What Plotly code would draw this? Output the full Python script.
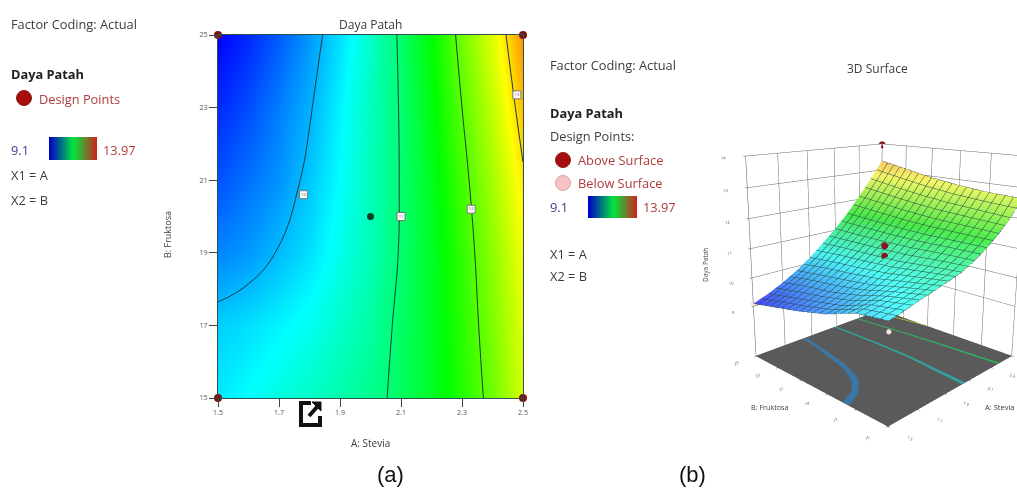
import plotly.graph_objects as go

W, H = 1017, 488
FONT = "Open Sans"
TXT = "#3c3c3c"

stevia = [1.5, 1.6, 1.7, 1.8, 1.9, 2.0, 2.1, 2.2, 2.3, 2.4, 2.5]
fruktosa = [15, 17, 19, 21, 23, 25]
daya_patah = [
    [10.25, 10.37, 10.50, 10.62, 10.75, 10.88, 11.10, 11.38, 11.72, 12.12, 12.65],
    [10.12, 10.20, 10.30, 10.42, 10.60, 10.80, 11.08, 11.38, 11.76, 12.20, 12.70],
    [9.75, 9.85, 10.02, 10.20, 10.45, 10.70, 11.03, 11.38, 11.80, 12.28, 12.80],
    [9.50, 9.66, 9.82, 10.08, 10.36, 10.68, 11.02, 11.42, 11.88, 12.40, 12.95],
    [9.30, 9.48, 9.72, 9.97, 10.30, 10.66, 11.03, 11.48, 12.00, 12.55, 13.15],
    [9.10, 9.30, 9.55, 9.85, 10.20, 10.62, 11.06, 11.55, 12.12, 12.72, 13.35],
]
contour_levels = [10, 11, 12, 13]
label_x = [1.78, 2.10, 2.33, 2.48]
label_y = [20.6, 20.0, 20.2, 23.35]
corner_x = [1.5, 1.5, 2.5, 2.5]
corner_y = [15, 25, 15, 25]
center_x = [2.0]
center_y = [20.0]
above_a = [2.5, 2.0, 2.0]
above_b = [25, 20, 20]
above_z = [13.97, 11.1, 10.75]
below_a = [1.5, 1.5]
below_b = [15, 25]
below_z = [9.95, 9.1]
xticks = [1.5, 1.7, 1.9, 2.1, 2.3, 2.5]
yticks = [15, 17, 19, 21, 23, 25]
zticks = [9, 10, 11, 12, 13, 14]
cmin, cmax = 9.1, 13.97
z_floor = 7.2

scale = [[0, "#0000ff"], [0.257, "#00ffff"], [0.503, "#00ff00"],
         [0.77, "#ffff00"], [1, "#ff0000"]]
surface_scale = [[0, "#3c3cf0"], [0.257, "#46f0f0"], [0.503, "#46e646"],
                 [0.77, "#f5f564"], [1, "#ff8c64"]]
bar_scale = [[0, "#0000c8"], [0.5, "#00e63c"], [1, "#d21e1e"]]

FLOOR_GREY = "#5a5a5a"
floor_colors = ["#3a78a8", "#2fa8a0", "#30b060", "#a8c030"]
band = 0.035
floor_scale = [[0, FLOOR_GREY]]
for lev, col in zip(contour_levels, floor_colors):
    a = (lev - band - cmin) / (cmax - cmin)
    b = (lev + band - cmin) / (cmax - cmin)
    floor_scale += [[a - 1e-4, FLOOR_GREY], [a, col], [b, col], [b + 1e-4, FLOOR_GREY]]
floor_scale += [[1, FLOOR_GREY]]


def px(x):
    return x / W


def py(y):
    return 1 - y / H


fig = go.Figure()
fig.add_trace(go.Heatmap(x=stevia, y=fruktosa, z=daya_patah, zmin=cmin, zmax=cmax,
                         colorscale=scale, zsmooth="best", showscale=False))
fig.add_trace(go.Contour(x=stevia, y=fruktosa, z=daya_patah, showscale=False,
                         contours=dict(coloring="none", start=contour_levels[0],
                                       end=contour_levels[-1], size=1),
                         line=dict(color="#1c3c3c", width=1, smoothing=1.3)))
fig.add_trace(go.Scatter(x=label_x, y=label_y, mode="markers+text",
                         text=[str(v) for v in contour_levels], textposition="middle center",
                         textfont=dict(size=4, color="#444"),
                         marker=dict(symbol="square", size=8, color="white",
                                     line=dict(color="#777", width=1))))
fig.add_trace(go.Scatter(x=corner_x, y=corner_y, mode="markers", cliponaxis=False,
                         marker=dict(size=8, color="#7d1414")))
fig.add_trace(go.Scatter(x=center_x, y=center_y, mode="markers",
                         marker=dict(size=7, color="#143c28")))

for ax, ay in (("x2", "y2"), ("x3", "y3")):
    fig.add_trace(go.Heatmap(x=[0, 1, 2], y=[0, 1], z=[[0, 1, 2], [0, 1, 2]], xaxis=ax, yaxis=ay,
                             colorscale=bar_scale, zsmooth="best", showscale=False))

fig.add_trace(go.Surface(
    x=stevia, y=fruktosa, z=[[z_floor + 0.01] * len(stevia) for _ in fruktosa],
    surfacecolor=daya_patah, cmin=cmin, cmax=cmax, colorscale=floor_scale,
    showscale=False, lighting=dict(ambient=1, diffuse=0, specular=0, roughness=1, fresnel=0),
))
fig.add_trace(go.Surface(
    x=stevia, y=fruktosa, z=daya_patah, cmin=cmin, cmax=cmax, colorscale=surface_scale,
    showscale=False,
    lighting=dict(ambient=0.95, diffuse=0.15, specular=0.05),
    contours=dict(
        x=dict(show=True, start=1.5, end=2.5, size=0.05, color="#2a4a44", width=1),
        y=dict(show=True, start=15, end=25, size=0.5, color="#2a4a44", width=1),
    ),
))
fig.add_trace(go.Scatter3d(x=above_a, y=above_b, z=above_z, mode="markers",
                           marker=dict(size=4, color="#8c1420")))
fig.add_trace(go.Scatter3d(x=below_a, y=below_b, z=below_z, mode="markers",
                           marker=dict(size=3, color="#fbe0e0")))


def ann(x, y, text, size=12.8, color=TXT, bold=False, font=FONT, angle=0, anchor="left"):
    fig.add_annotation(xref="paper", yref="paper", x=px(x), y=py(y), text=f"<b>{text}</b>" if bold else text,
                       showarrow=False, xanchor=anchor, yanchor="middle", textangle=angle,
                       font=dict(size=size, color=color, family=font))


RED = "#b03a3a"
BLUE = "#3c3c8c"
ann(9, 24, "Factor Coding: Actual")
ann(9, 74, "Daya Patah", bold=True, color="#222")
ann(37, 99, "Design Points", color=RED)
ann(9, 150, "9.1", color=BLUE)
ann(101, 150, "13.97", color=RED)
ann(9, 175, "X1 = A")
ann(9, 200, "X2 = B")
ann(370, 24, "Daya Patah", size=12, anchor="center")
ann(370, 443, "A: Stevia", size=10, anchor="center")
ann(167, 235, "B: Fruktosa", size=9, angle=-90, anchor="center")

ann(548, 65, "Factor Coding: Actual")
ann(548, 113, "Daya Patah", bold=True, color="#222")
ann(548, 136, "Design Points:")
ann(576, 160, "Above Surface", color=RED)
ann(576, 183, "Below Surface", color=RED)
ann(548, 207, "9.1", color=BLUE)
ann(641, 207, "13.97", color=RED)
ann(548, 254, "X1 = A")
ann(548, 276, "X2 = B")
ann(877, 68, "3D Surface", size=12, anchor="center")
ann(705, 265, "Daya Patah", size=6.5, angle=-90, anchor="center")
ann(770, 407, "B: Fruktosa", size=7.2, anchor="center")
ann(999, 407, "A: Stevia", size=7.5, anchor="center")
ann(390, 474, "(a)", size=22, color="#111", font="Liberation Sans", anchor="center")
ann(692, 474, "(b)", size=22, color="#111", font="Liberation Sans", anchor="center")


def circle(cx, cy, r, fill, line):
    fig.add_shape(type="circle", xref="paper", yref="paper", x0=px(cx - r), x1=px(cx + r),
                  y0=py(cy + r), y1=py(cy - r), fillcolor=fill, line=dict(color=line, width=1))


circle(24, 98, 7.5, "#a80d0d", "#8c1414")
circle(563, 160, 7.5, "#a80d0d", "#8c1414")
circle(563, 183, 7.5, "#f6c4c4", "#d8a0a0")


def path(points, width=4):
    d = "M " + " L ".join(f"{px(a):.5f} {py(b):.5f}" for a, b in points)
    fig.add_shape(type="path", xref="paper", yref="paper", path=d, line=dict(color="#111", width=width))


path([(311, 403), (301, 403), (301, 425), (320, 425), (320, 416)])
path([(309, 416), (317, 407)])
fig.add_shape(type="path", xref="paper", yref="paper", fillcolor="#111", line=dict(color="#111", width=1),
              path=f"M {px(312):.5f} {py(402):.5f} L {px(321):.5f} {py(402):.5f} L {px(321):.5f} {py(411):.5f} Z")

axis_common = dict(ticks="outside", ticklen=8, tickcolor="#444", showgrid=False, zeroline=False,
                   tickfont=dict(size=7, color="#555", family=FONT), showline=True,
                   linecolor="#2c5050", linewidth=1, mirror=True)
off = dict(visible=False, fixedrange=True)
scene_axis = dict(color="#444", gridcolor="#666", gridwidth=1, showspikes=False, showline=True,
                  linecolor="#555", showbackground=True, backgroundcolor="white", title=dict(text=""),
                  tickfont=dict(size=7, color="#555", family=FONT), ticks="outside", ticklen=2)

shift = 0.06
fig.update_layout(
    width=W, height=H, autosize=False, showlegend=False,
    margin=dict(l=0, r=0, t=0, b=0, autoexpand=False), paper_bgcolor="white", plot_bgcolor="white",
    xaxis=dict(domain=[px(218), px(523)], range=[1.5, 2.5], tickvals=xticks, **axis_common),
    yaxis=dict(domain=[py(398), py(35)], range=[15, 25], tickvals=yticks, **axis_common),
    xaxis2=dict(domain=[px(49), px(97)], range=[0, 2], anchor="y2", **off),
    yaxis2=dict(domain=[py(160), py(137)], range=[0, 1], anchor="x2", **off),
    xaxis3=dict(domain=[px(588), px(637)], range=[0, 2], anchor="y3", **off),
    yaxis3=dict(domain=[py(218), py(196)], range=[0, 1], anchor="x3", **off),
    scene=dict(
        domain=dict(x=[px(720), 1.0], y=[0, 1]),
        aspectmode="manual", aspectratio=dict(x=1, y=1, z=1.1),
        camera=dict(eye=dict(x=-2.12 - shift, y=-2.12 + shift, z=0.87),
                    center=dict(x=-shift, y=shift, z=0.09),
                    projection=dict(type="perspective")),
        xaxis=dict(range=[1.5, 2.5], tickvals=xticks, **scene_axis),
        yaxis=dict(range=[15, 25], tickvals=yticks, **scene_axis),
        zaxis=dict(range=[z_floor, 14], tickvals=zticks,
                   **{**scene_axis, "backgroundcolor": FLOOR_GREY}),
    ),
)

fig.write_html("out.html", config=dict(displayModeBar=False),
               post_script="document.body.style.margin='0';")
